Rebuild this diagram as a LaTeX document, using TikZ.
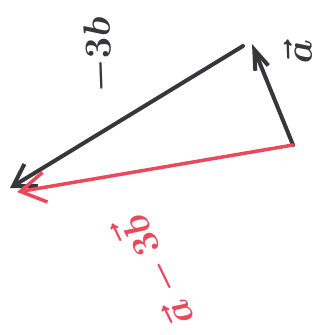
\documentclass[tikz,border=0pt]{standalone}
\usetikzlibrary{arrows.meta}
\definecolor{ink}{RGB}{55,55,58}
\definecolor{redink}{RGB}{236,72,92}
\begin{document}
\begin{tikzpicture}[x=1pt,y=-1pt,
  vec/.style={line width=4pt,line cap=round},
  lbl/.style={inner sep=0pt,scale=2.2,font=\LARGE\boldmath}]
\useasboundingbox (0,0) rectangle (322,335);
\coordinate (A) at (293,145);
\coordinate (B) at (252,44);
\coordinate (Bs) at (243,46);
\coordinate (C) at (10,188);
\coordinate (D) at (17,192);
\draw[vec,ink,-{Straight Barb[length=20pt,width=14pt,line width=4pt]}] (A) -- (B);
\draw[vec,ink,-{Straight Barb[length=21pt,width=26pt,line width=4pt]}] (Bs) -- (C);
\draw[vec,redink,line width=3.5pt,-{Straight Barb[length=25pt,width=30pt,line width=3.5pt]}] (A) -- (D);
\node[lbl,ink,rotate=92] (lb) at (100,55) {$-3b$};
\node[lbl,ink,rotate=92] (la) at (298,52) {$\vec a$};
\node[lbl,redink,rotate=116] (lr) at (155,272) {$\vec a-3\vec b$};
\end{tikzpicture}
\end{document}
